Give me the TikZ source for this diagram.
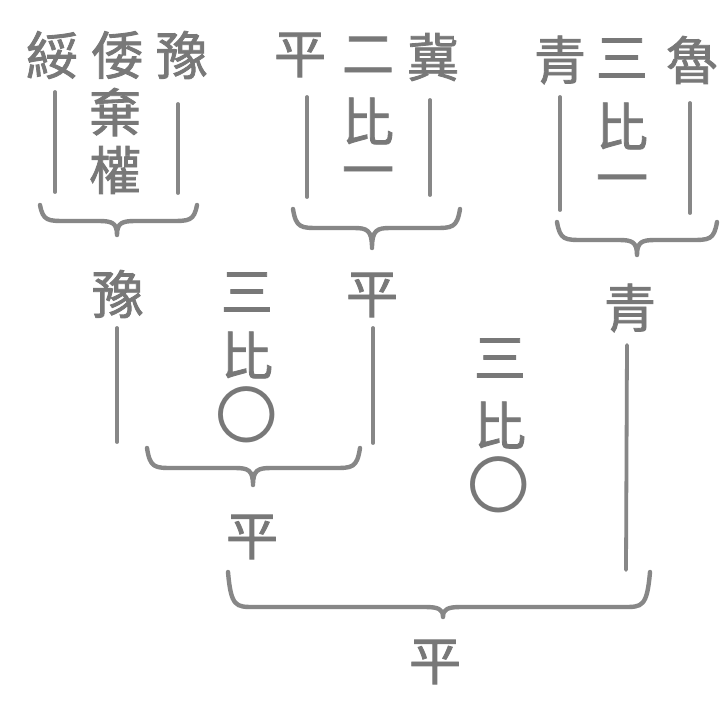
\documentclass[tikz,border=0pt]{standalone}
\usepackage{fontspec}
\newfontfamily\cjk{Noto Sans CJK TC}[FakeBold=1.6]
\newfontfamily\cjkthin{Noto Sans CJK TC}
\definecolor{ink}{RGB}{120,120,120}
\definecolor{lineink}{RGB}{135,135,135}
\tikzset{
  ch/.style={font=\cjk\fontsize{52}{52}\selectfont, text=ink, inner sep=0pt, anchor=center},
  zero/.style={font=\cjkthin\fontsize{52}{52}\selectfont, text=ink, inner sep=0pt, anchor=center, scale=1.2},
  bar/.style={draw=lineink, line width=3.8pt, line cap=round},
  brc/.style={draw=lineink, line width=4.4pt, line cap=round, line join=round},
}
% brace: #1 left x, #2 tip x, #3 right x, #4 end y, #5 flat y, #6 tip y
\newcommand\hbrc[6]{%
  \draw[brc] (#1,#4) .. controls (#1+3,#5) and (#1+8,#5) .. (#1+26,#5)
    -- (#2-18,#5) .. controls (#2-5,#5) and (#2,#5+2) .. (#2,#6)
    .. controls (#2,#5+2) and (#2+5,#5) .. (#2+18,#5)
    -- (#3-26,#5) .. controls (#3-8,#5) and (#3-3,#5) .. (#3,#4);}
\begin{document}
\begin{tikzpicture}[x=1pt,y=-1pt]
\useasboundingbox (0,0) rectangle (726,718);
\fill[white] (0,0) rectangle (726,718);

% ---- group 1 ----
\node[ch] (a1) at (52,55) {綏};
\node[ch] (a2) at (117,55) {倭};
\node[ch] (a3) at (115,112) {棄};
\node[ch] (a4) at (115,170) {權};
\node[ch] (a5) at (182,55) {豫};
\draw[bar] (55,92) -- (55,192);
\draw[bar] (178,104) -- (178,193);
\hbrc{40}{117}{197}{205}{221}{235}

% ---- group 2 ----
\node[ch] (b1) at (300,55) {平};
\node[ch] (b2) at (368,55) {二};
\node[ch] (b3) at (368,121) {比};
\node[ch] (b4) at (368,178) {一};
\node[ch] (b5) at (433,57) {冀};
\draw[bar] (307,97) -- (307,197);
\draw[bar] (430,100) -- (430,195);
\hbrc{293}{372}{460}{209}{228}{248}

% ---- group 3 ----
\node[ch] (c1) at (560,60) {青};
\node[ch] (c2) at (622,58) {三};
\node[ch] (c3) at (622,126) {比};
\node[ch] (c4) at (622,186) {一};
\node[ch] (c5) at (692,60) {魯};
\draw[bar] (560,97) -- (560,210);
\draw[bar] (690,103) -- (690,213);
\hbrc{557}{637}{717}{222}{240}{255}

% ---- round 2 results ----
\node[ch] (r1) at (118,294) {豫};
\node[ch] (r2) at (372,295) {平};
\node[ch] (r4) at (630,308) {青};
\coordinate (r1t) at (117,328);
\coordinate (r1b) at (117,442);
\coordinate (r2t) at (373,328);
\coordinate (r2b) at (373,443);
\coordinate (r4t) at (627,345);
\coordinate (r4b) at (626,570);
\draw[bar] (r1t) -- (r1b);
\draw[bar] (r2t) -- (r2b);
\draw[bar] (r4t) -- (r4b);

% score of round 2
\node[ch] (s1) at (247,292) {三};
\node[ch] (s2) at (247,355) {比};
\node[zero] (s3) at (247,415) {〇};
\hbrc{147}{253}{360}{448}{468}{485}

\node[ch] (r3) at (252,537) {平};

% final score
\node[ch] (t1) at (500,358) {三};
\node[ch] (t2) at (500,425) {比};
\node[zero] (t3) at (499,485) {〇};
\hbrc{228}{443}{650}{572}{607}{617}

\node[ch] (f) at (435,662) {平};
\end{tikzpicture}
\end{document}
